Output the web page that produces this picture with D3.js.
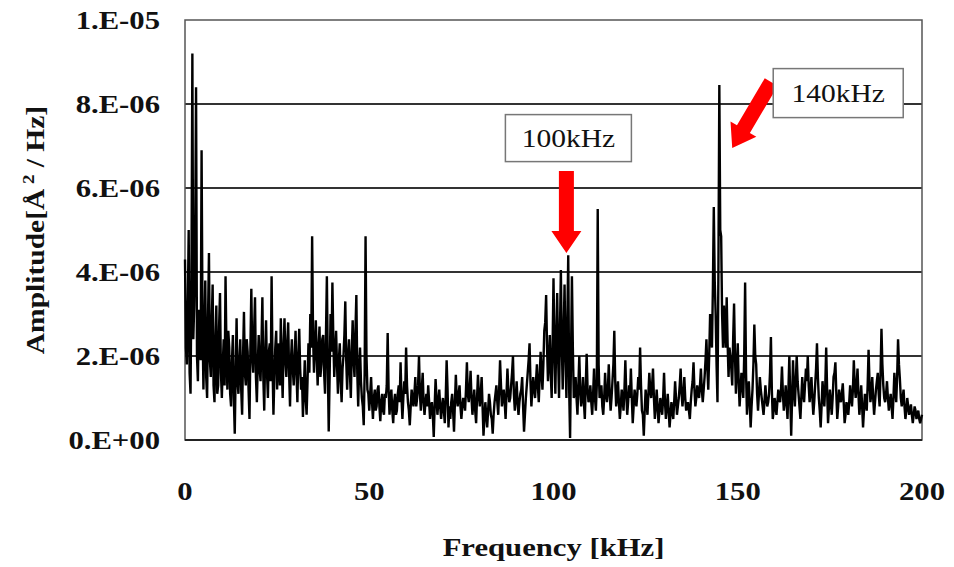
<!DOCTYPE html>
<html>
<head>
  <meta charset="utf-8">
  <title>Amplitude spectrum</title>
  <style>
    body { margin: 0; background: #fff; }
    text { font-family: "Liberation Serif", "Times New Roman", serif; }
  </style>
</head>
<body>
  <script src="https://d3js.org/d3.v7.min.js"></script>
  <script>
// spectrum read every 0.5 kHz from 0 to 200 kHz, amplitude in units of 1e-6 A^2/Hz
var freqStep = 0.5;
var amplitudeE6 = [
  4.3,1.8,5.0,1.1,9.2,3.2,8.4,1.4,2.6,6.9,
  1.2,3.8,1.0,4.45,1.5,3.7,0.9,3.2,1.3,3.5,
  1.0,2.4,3.9,1.2,2.2,0.8,2.5,0.15,2.9,1.1,
  2.4,0.6,3.05,1.3,2.1,0.5,3.6,1.6,3.4,0.9,
  2.5,1.4,3.4,0.7,2.85,1.0,2.3,3.9,0.6,2.2,
  1.2,1.8,2.9,1.0,2.9,1.5,2.8,0.8,2.4,1.3,
  2.6,0.9,2.65,1.2,0.55,1.9,0.6,2.3,3.0,4.85,
  1.6,2.85,1.3,2.7,1.8,2.5,1.1,3.9,0.2,3.0,
  3.75,1.5,2.6,1.1,2.3,0.9,2.0,3.3,1.2,2.4,
  1.0,2.85,1.5,3.45,0.8,2.2,1.0,0.35,4.85,1.2,
  0.7,1.5,0.5,1.2,0.8,1.3,0.45,1.1,0.6,1.0,
  2.55,0.6,1.2,0.4,1.1,0.7,1.3,1.85,0.5,1.4,
  2.2,0.9,0.35,1.2,0.8,1.5,1.0,2.0,0.7,1.6,
  0.6,1.1,1.3,0.5,0.9,0.07,1.45,0.6,1.2,0.5,
  1.0,0.4,1.9,0.3,0.5,1.1,0.2,1.55,0.8,1.3,
  0.5,1.0,0.7,1.85,0.9,1.65,0.6,1.2,0.4,1.55,
  0.8,1.5,0.1,0.9,0.3,1.1,0.6,0.15,0.9,1.3,
  0.6,1.9,0.8,1.2,0.5,1.7,0.9,1.3,2.0,0.7,
  1.4,0.6,1.1,1.5,0.2,1.0,1.6,2.3,0.8,1.5,
  1.0,1.8,0.9,2.1,1.2,2.6,3.45,1.4,2.5,1.0,
  3.85,1.1,3.5,1.0,4.05,1.2,3.7,1.0,4.4,0.05,
  3.9,1.0,1.5,0.6,2.0,0.8,1.5,0.5,2.05,0.9,
  1.3,0.6,1.7,0.7,5.5,1.0,1.3,0.6,1.6,0.9,
  1.8,0.7,1.4,2.6,0.8,1.4,0.5,1.2,0.7,1.9,
  0.6,1.3,1.7,0.4,1.2,0.8,1.5,2.2,0.7,0.1,
  1.2,0.6,1.6,1.0,1.7,0.5,1.2,0.4,1.0,0.6,
  1.6,0.5,1.1,0.3,0.9,0.5,1.4,0.6,1.0,1.7,
  0.8,1.5,0.7,0.9,0.5,1.2,1.85,0.8,1.3,1.0,
  1.7,0.9,1.5,2.4,1.2,3.0,2.2,5.55,3.0,0.9,
  8.45,4.85,2.2,2.7,3.4,1.5,2.0,1.3,3.25,1.1,
  2.3,0.8,1.6,1.0,3.75,0.6,1.4,0.3,1.2,2.75,
  1.8,0.7,1.5,1.0,0.6,1.3,0.8,1.1,2.45,0.5,
  1.0,0.6,1.2,0.9,1.75,0.7,1.3,0.5,2.0,0.1,
  1.9,0.8,2.0,1.1,0.5,1.5,0.9,1.7,2.0,0.9,
  1.5,0.6,1.3,2.3,1.0,0.3,1.4,0.8,2.2,0.4,
  1.2,0.6,1.5,1.85,0.5,1.2,0.9,1.35,0.4,0.9,
  0.6,1.3,0.8,1.9,1.0,1.7,0.6,1.3,0.3,1.1,
  0.7,2.15,0.9,1.5,0.6,1.2,1.6,0.8,2.65,1.3,
  0.9,1.4,0.7,1.1,0.5,1.6,0.9,2.4,1.45,0.8,
  1.2,0.5,1.0,0.6,0.85,0.4,0.8,0.5,0.7,0.4,
  0.6
];

// in-between readings of the dense band, at 0.25, 0.75, ... 199.75 kHz
var amplitudeMidE6 = [
  2.2,3.1,1.6,3.8,2.4,4.6,2.0,3.1,1.9,2.8,
  2.6,1.5,2.9,1.9,2.8,1.3,2.4,1.1,2.7,1.6,
  1.8,1.3,2.2,2.6,1.1,1.9,1.0,1.6,1.4,1.9,
  1.2,2.0,1.6,2.4,1.2,2.2,2.0,2.6,1.5,1.8,
  1.7,2.3,1.5,2.0,1.6,2.1,1.4,1.8,1.5,2.6,
  2.3,1.3,1.8,2.2,1.9,2.3,1.6,1.9,1.7,1.9,
  1.6,2.0,1.7,1.5,1.2,1.0,1.4,1.6,2.2,2.5,
  2.2,2.0,2.2,1.5,2.4,1.6,2.5,1.8,1.5,2.1,
  2.4,2.1,1.8,1.9,1.4,1.7,2.5,1.9,2.0,1.6,
  2.1,1.9,2.6,1.6,1.7,1.4,0.8,1.6,2.0,1.1,
  1.1,0.9,1.0,0.7,1.2,0.8,0.9,0.7,1.1,1.3,
  1.2,1.0,0.7,0.9,0.6,1.1,0.9,1.0,1.0,1.1,
  1.3,0.7,0.8,1.0,1.1,0.8,1.3,1.1,1.2,0.9,
  0.9,0.8,0.9,0.8,0.6,0.8,1.0,0.9,0.8,0.8,
  0.7,1.0,1.2,0.8,0.9,0.7,0.9,1.0,1.1,0.8,
  0.8,0.9,1.2,1.1,1.2,1.0,0.9,0.7,1.0,1.1,
  1.1,0.8,0.5,0.6,0.7,0.9,0.5,0.6,1.1,0.9,
  1.2,1.3,1.0,0.9,1.1,1.2,1.0,1.6,1.1,1.0,
  0.9,0.9,1.2,0.8,0.6,1.3,1.9,1.4,1.2,1.2,
  1.4,1.3,1.5,1.6,1.8,2.8,2.2,1.9,1.6,2.2,
  2.2,2.4,2.0,2.6,2.3,2.5,2.0,2.8,1.2,2.0,
  2.2,1.1,1.0,1.3,1.2,1.0,0.9,1.3,1.2,1.0,
  0.9,1.1,1.0,1.3,1.8,1.1,0.8,1.0,1.1,1.2,
  1.1,1.0,1.8,1.4,1.0,0.9,0.8,1.0,1.2,1.1,
  0.9,1.0,1.0,0.8,1.0,1.1,1.2,1.3,0.6,0.7,
  0.9,1.1,1.2,1.3,1.0,0.8,0.8,0.7,0.8,1.0,
  0.9,0.8,0.7,0.6,0.7,0.9,1.0,0.8,1.3,1.1,
  1.1,1.0,0.8,0.7,0.9,1.4,1.2,1.0,1.1,1.3,
  1.2,1.2,1.9,1.7,2.0,2.5,3.6,3.8,1.8,4.0,
  5.0,3.0,3.2,2.2,2.3,2.2,1.7,2.4,2.0,1.7,
  1.4,1.2,1.3,2.0,1.6,1.0,0.9,0.8,1.8,2.0,
  1.1,1.1,1.2,0.8,0.9,1.0,0.9,1.6,1.2,0.7,
  0.8,0.9,1.0,1.2,1.1,0.9,0.9,1.2,1.0,1.0,
  1.2,1.4,1.4,0.8,1.0,1.1,1.3,1.4,1.3,1.2,
  1.0,0.9,1.7,1.5,0.7,0.8,1.1,1.3,1.2,0.8,
  0.9,1.0,1.6,1.1,0.8,1.0,1.1,0.9,0.6,0.8,
  0.9,1.0,1.2,1.3,1.3,1.1,0.9,0.8,0.7,0.9,
  1.3,1.4,1.1,1.0,0.9,1.4,1.1,1.6,1.8,1.0,
  1.1,1.0,0.9,0.8,1.0,1.2,1.5,1.8,1.0,1.0,
  0.8,0.7,0.8,0.7,0.6,0.6,0.7,0.6,0.5,0.5
];

var yTicks = [0, 2, 4, 6, 8, 10];
var yTickLabels = ["0.E+00", "2.E-06", "4.E-06", "6.E-06", "8.E-06", "1.E-05"];
var xTicks = [0, 50, 100, 150, 200];

// annotations: label and the (freq, amplitude) where the arrow tip sits
var peakLabels = ["100kHz", "140kHz"];
var arrowFreqs = [103.5, 148.5];
var arrowAmps = [4.45, 6.95];

var width = 954, height = 567;
var plotLeft = 185, plotRight = 922, plotTop = 20, plotBottom = 440;
var stretch = 1.18;  // the original text is drawn wide

var svg = d3.select("body")
  .append("svg")
  .attr("width", width)
  .attr("height", height);

var x = d3.scaleLinear().domain([0, 200]).range([plotLeft, plotRight]);
var y = d3.scaleLinear().domain([0, 10]).range([plotBottom, plotTop]);

// merge both readings into one trace ordered by frequency
var trace = [];
amplitudeE6.forEach(function(v, i) {
  trace.push({ f: i * freqStep, v: v });
  if (i < amplitudeMidE6.length) {
    trace.push({ f: i * freqStep + freqStep / 2, v: amplitudeMidE6[i] });
  }
});

// helper for horizontally stretched text
function wideText(px, py, str, size, weight, anchor) {
  return svg.append("text")
    .attr("transform", "translate(" + px + "," + py + ") scale(" + stretch + ",1)")
    .attr("text-anchor", anchor)
    .attr("font-size", size)
    .attr("font-weight", weight)
    .attr("fill", "#111")
    .text(str);
}

// gridlines
svg.selectAll("line.grid")
  .data(yTicks.slice(1, -1))
  .enter()
  .append("line")
  .attr("class", "grid")
  .attr("x1", plotLeft).attr("x2", plotRight)
  .attr("y1", function(d) { return y(d); })
  .attr("y2", function(d) { return y(d); })
  .attr("stroke", "#333")
  .attr("stroke-width", 2);

// frame
svg.append("rect")
  .attr("x", plotLeft).attr("y", plotTop)
  .attr("width", plotRight - plotLeft).attr("height", plotBottom - plotTop)
  .attr("fill", "none")
  .attr("stroke", "#555")
  .attr("stroke-width", 1.5);
svg.append("line")
  .attr("x1", plotLeft).attr("x2", plotRight)
  .attr("y1", plotBottom).attr("y2", plotBottom)
  .attr("stroke", "#222").attr("stroke-width", 2);

// spectrum trace
var line = d3.line()
  .x(function(d) { return x(d.f); })
  .y(function(d) { return y(d.v); });

svg.append("path")
  .datum(trace)
  .attr("d", line)
  .attr("fill", "none")
  .attr("stroke", "#000")
  .attr("stroke-width", 2.4)
  .attr("stroke-linejoin", "miter")
  .attr("stroke-miterlimit", 2);

// y tick labels
yTicks.forEach(function(t, i) {
  wideText(plotLeft - 25, y(t) + 9, yTickLabels[i], 26, "bold", "end");
});

// x tick labels
xTicks.forEach(function(t) {
  wideText(x(t), 500, String(t), 26, "bold", "middle");
});

// axis titles
wideText((plotLeft + plotRight) / 2, 556, "Frequency [kHz]", 26, "bold", "middle");

var yTitle = svg.append("text")
  .attr("transform", "translate(44," + ((plotTop + plotBottom) / 2) + ") rotate(-90) scale(" + stretch + ",1)")
  .attr("text-anchor", "middle")
  .attr("font-size", 25)
  .attr("font-weight", "bold")
  .attr("fill", "#111");
yTitle.append("tspan").text("Amplitude[Å");
yTitle.append("tspan").attr("font-size", 16).attr("dy", -10).text(" 2");
yTitle.append("tspan").attr("dy", 10).text(" / Hz]");

// annotation boxes
function labelBox(cx, cy, w, h, str) {
  svg.append("rect")
    .attr("x", cx - w / 2).attr("y", cy - h / 2)
    .attr("width", w).attr("height", h)
    .attr("fill", "#fff")
    .attr("stroke", "#777")
    .attr("stroke-width", 1.5);
  wideText(cx, cy + 9, str, 25, "normal", "middle");
}

// arrow polygon from tail to tip
function arrow(x0, y0, x1, y1) {
  var dx = x1 - x0, dy = y1 - y0;
  var len = Math.sqrt(dx * dx + dy * dy);
  var ux = dx / len, uy = dy / len;
  var nx = -uy, ny = ux;
  var headLen = 22, headW = 15, shaftW = 7.5;
  var bx = x1 - ux * headLen, by = y1 - uy * headLen;
  var pts = [
    [x0 + nx * shaftW, y0 + ny * shaftW],
    [bx + nx * shaftW, by + ny * shaftW],
    [bx + nx * headW, by + ny * headW],
    [x1, y1],
    [bx - nx * headW, by - ny * headW],
    [bx - nx * shaftW, by - ny * shaftW],
    [x0 - nx * shaftW, y0 - ny * shaftW]
  ];
  svg.append("polygon")
    .attr("points", pts.map(function(p) { return p.join(","); }).join(" "))
    .attr("fill", "#ff0000");
}

// 100 kHz: box above, arrow straight down
var p0x = x(arrowFreqs[0]), p0y = y(arrowAmps[0]);
arrow(p0x, p0y - 82, p0x, p0y);
labelBox(p0x + 2, p0y - 115, 126, 47, peakLabels[0]);

// 140 kHz: box up-right, diagonal arrow
var p1x = x(arrowFreqs[1]), p1y = y(arrowAmps[1]);
arrow(p1x + 39, p1y - 66, p1x, p1y);
labelBox(p1x + 106, p1y - 55, 130, 49, peakLabels[1]);
  </script>
</body>
</html>
